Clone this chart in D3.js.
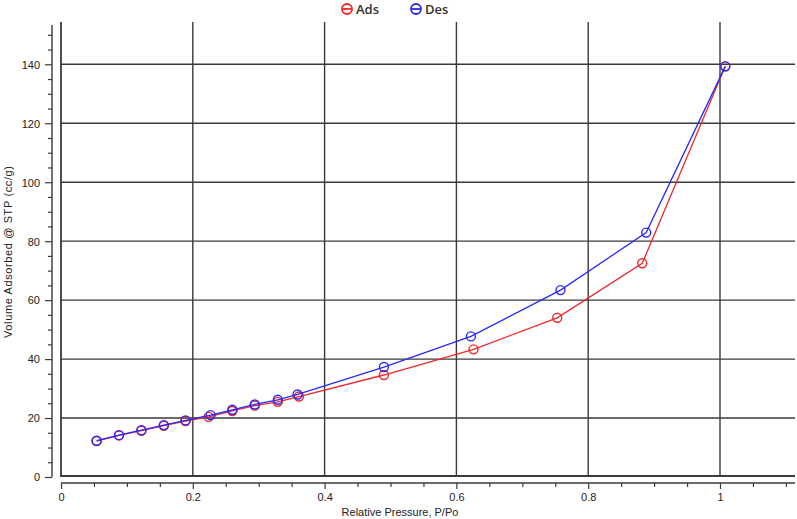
<!DOCTYPE html>
<html>
<head>
<meta charset="utf-8">
<script src="https://cdn.jsdelivr.net/npm/d3@7"></script>
<style>
  body { margin: 0; background: #fff; }
  text { font-family: "Liberation Sans", Arial, sans-serif; fill: #222; }
</style>
</head>
<body>
<div id="chart"></div>
<script>
// Isotherm data
const adsP = [0.054, 0.088, 0.122, 0.156, 0.189, 0.224, 0.260, 0.294, 0.329, 0.361, 0.490, 0.626, 0.753, 0.882, 1.008];
const adsV = [12.2, 14.1, 15.7, 17.4, 19.0, 20.4, 22.4, 24.2, 25.5, 27.3, 34.6, 43.3, 54.0, 72.5, 139.3];
const desP = [1.008, 0.888, 0.758, 0.622, 0.490, 0.359, 0.329, 0.294, 0.260, 0.227, 0.189, 0.156, 0.122, 0.088, 0.054];
const desV = [139.3, 82.9, 63.4, 47.7, 37.3, 28.0, 26.2, 24.6, 22.8, 21.0, 19.2, 17.6, 15.9, 14.2, 12.3];
const xTicks = [0, 0.2, 0.4, 0.6, 0.8, 1];
const yTicks = [0, 20, 40, 60, 80, 100, 120, 140];

const width = 797, height = 519;

const svg = d3.select("#chart")
    .append("svg")
    .attr("width", width)
    .attr("height", height);

// Scales
const x = d3.scaleLinear().domain([0, 1]).range([61, 720]);
const y = d3.scaleLinear().domain([0, 140]).range([477, 64.3]);
const xMax = x.invert(795);
const yMax = y.invert(25);

const gridColor = "#3a3a3a";

// Horizontal grid lines
svg.append("g")
   .selectAll("line")
   .data(yTicks.filter(d => d > 0))
   .enter()
   .append("line")
   .attr("x1", x(0))
   .attr("x2", x(xMax))
   .attr("y1", d => y(d))
   .attr("y2", d => y(d))
   .attr("stroke", gridColor)
   .attr("stroke-width", 1.4);

// Vertical grid lines
svg.append("g")
   .selectAll("line")
   .data(xTicks.filter(d => d > 0))
   .enter()
   .append("line")
   .attr("x1", d => x(d))
   .attr("x2", d => x(d))
   .attr("y1", y(yMax) - 3)
   .attr("y2", y(0) - 1)
   .attr("stroke", gridColor)
   .attr("stroke-width", 1.4);

// Plot frame (left and bottom)
svg.append("path")
   .attr("d", `M${x(0)},${y(yMax) - 3}V${y(0) - 1}H${x(xMax)}`)
   .attr("fill", "none")
   .attr("stroke", gridColor)
   .attr("stroke-width", 1.8);

// Y axis, offset to the left of the frame
const yAxis = svg.append("g")
    .attr("transform", "translate(52,0)")
    .call(d3.axisLeft(y)
        .tickValues(d3.range(0, yMax, 5))
        .tickSize(0)
        .tickFormat(""));
yAxis.select(".domain").remove();
yAxis.append("line")
     .attr("y1", y(yMax)).attr("y2", y(0))
     .attr("stroke", gridColor).attr("stroke-width", 1.4);
yAxis.selectAll(".tick line")
     .attr("x2", d => d % 20 === 0 ? -7 : -4)
     .attr("stroke", gridColor)
     .attr("stroke-width", 1.2);
yAxis.selectAll(".tick")
     .filter(d => d % 20 === 0)
     .append("text")
     .attr("x", -12)
     .attr("dy", "0.35em")
     .attr("text-anchor", "end")
     .style("font-size", "11px")
     .text(d => d);

// X axis, offset below the frame
const xAxis = svg.append("g")
    .attr("transform", "translate(0,483)")
    .call(d3.axisBottom(x)
        .tickValues(d3.range(0, xMax, 0.05))
        .tickSize(0)
        .tickFormat(""));
xAxis.select(".domain").remove();
xAxis.append("line")
     .attr("x1", x(0)).attr("x2", x(xMax))
     .attr("stroke", gridColor).attr("stroke-width", 1.4);
const isMajor = d => Math.abs(d * 5 - Math.round(d * 5)) < 1e-6;
xAxis.selectAll(".tick line")
     .attr("y2", d => isMajor(d) ? 6 : 4)
     .attr("stroke", gridColor)
     .attr("stroke-width", 1.2);
xAxis.selectAll(".tick")
     .filter(d => isMajor(d))
     .append("text")
     .attr("y", 18)
     .attr("text-anchor", "middle")
     .style("font-size", "11px")
     .text(d => d3.format("~g")(+d.toFixed(2)));

// Axis titles
svg.append("text")
   .attr("x", 400)
   .attr("y", 516)
   .attr("text-anchor", "middle")
   .style("font-size", "11px")
   .text("Relative Pressure, P/Po");

svg.append("text")
   .attr("transform", "translate(12,252) rotate(-90)")
   .attr("text-anchor", "middle")
   .style("font-size", "11px")
   .attr("textLength", 172)
   .text("Volume Adsorbed @ STP (cc/g)");

// Series
const series = [
    { name: "Ads", color: "#f0282a", p: adsP, v: adsV },
    { name: "Des", color: "#2a2af5", p: desP, v: desV }
];

const line = d3.line()
    .x(d => x(d[0]))
    .y(d => y(d[1]));

series.forEach(s => {
    const pts = s.p.map((p, i) => [p, s.v[i]]);
    const g = svg.append("g");
    g.append("path")
     .datum(pts)
     .attr("d", line)
     .attr("fill", "none")
     .attr("stroke", s.color)
     .attr("stroke-width", 1.3);
    g.selectAll("circle")
     .data(pts)
     .enter()
     .append("circle")
     .attr("cx", d => x(d[0]))
     .attr("cy", d => y(d[1]))
     .attr("r", 4.5)
     .attr("fill", "none")
     .attr("stroke", s.color)
     .attr("stroke-width", 1.4);
});

// Legend
const legend = svg.append("g").attr("transform", "translate(0,9)");
series.forEach((s, i) => {
    const lx = 347 + i * 69;
    legend.append("circle")
          .attr("cx", lx).attr("cy", 0).attr("r", 5)
          .attr("fill", "none").attr("stroke", s.color).attr("stroke-width", 1.8);
    legend.append("line")
          .attr("x1", lx - 5).attr("x2", lx + 5)
          .attr("stroke", s.color).attr("stroke-width", 1.8);
    legend.append("text")
          .attr("x", lx + 9).attr("dy", "0.36em")
          .style("font-family", "'Open Sans', sans-serif")
          .style("font-size", "13px")
          .style("font-weight", "600")
          .style("fill", "#333")
          .text(s.name);
});
</script>
</body>
</html>
